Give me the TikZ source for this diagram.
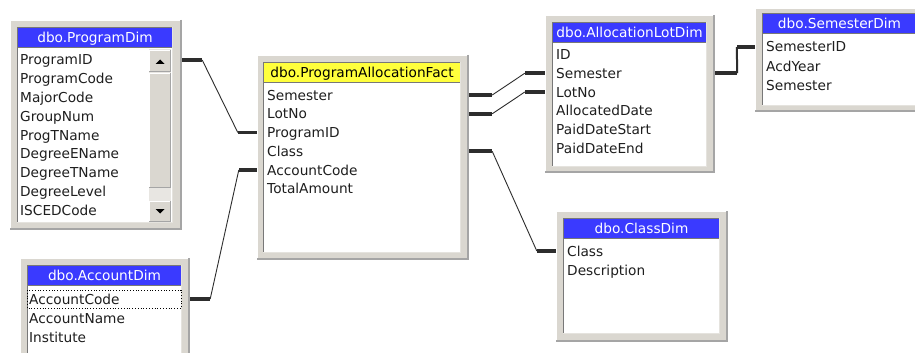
\documentclass[tikz,border=0pt]{standalone}
\usepackage{fontspec}
\setmainfont{DejaVu Sans}
\usetikzlibrary{calc,fit}
\definecolor{framegray}{RGB}{218,215,208}
\definecolor{shadegray}{RGB}{165,165,165}
\definecolor{darkedge}{RGB}{120,120,120}
\definecolor{hdrblue}{RGB}{58,58,255}
\definecolor{hdryellow}{RGB}{255,255,60}
\definecolor{linegray}{RGB}{45,45,45}
\definecolor{rowink}{RGB}{30,30,30}
\definecolor{trackgray}{RGB}{232,230,226}
\tikzset{
  rowtext/.style={anchor=west, inner sep=0pt, text height=10pt, text depth=0pt,
    font=\fontsize{13.7}{16}\selectfont, text=rowink},
  titletext/.style={inner sep=0pt, text height=10pt, text depth=0pt,
    font=\fontsize{13.7}{16}\selectfont},
  stub/.style={line width=3.6pt, linegray},
  link/.style={line width=0.9pt, linegray},
  vlink/.style={line width=2pt, linegray},
}
% #1 name, #2 outer top-left, #3 outer bottom-right, #4 inner top-left, #5 inner bottom-right,
% #6 title, #7 title fill, #8 title text colour
\newcommand\dbframe[8]{%
  \coordinate (#1-o0) at (#2); \coordinate (#1-o1) at (#3);
  \coordinate (#1-i0) at (#4); \coordinate (#1-i1) at (#5);
  \node[inner sep=0pt, fit=(#1-o0)(#1-o1)] (#1) {};
  \fill[framegray] (#1-o0) rectangle (#1-o1);
  \draw[white, line width=1pt] ($(#1-o0 -| #1-o1)+(-1,0.5)$) -- ($(#1-o0)+(0.5,0.5)$) -- ($(#1-o0 |- #1-o1)+(0.5,-1)$);
  \draw[shadegray, line width=1.6pt] ($(#1-o0 -| #1-o1)+(-0.8,0)$) -- ($(#1-o1)+(-0.8,-0.8)$) -- ($(#1-o0 |- #1-o1)+(0,-0.8)$);
  \fill[white] (#1-i0) rectangle (#1-i1);
  \fill[#7] (#1-i0) rectangle ($(#1-i1 |- #1-i0)+(0,20)$);
  \draw[darkedge, line width=1pt] ($(#1-i0)+(0,20.5)$) -- ($(#1-i1 |- #1-i0)+(0,20.5)$);
  \draw[darkedge, line width=1pt] ($(#1-i0 |- #1-i1)+(0.5,0)$) -- ($(#1-i0)+(0.5,0.5)$) -- ($(#1-i0 -| #1-i1)+(0,0.5)$);
  \draw[framegray!70, line width=1pt] ($(#1-i0 -| #1-i1)+(-0.5,0)$) -- ($(#1-i1)+(-0.5,-0.5)$) -- ($(#1-i0 |- #1-i1)+(0,-0.5)$);
  \node[titletext, text=#8] (#1-title) at ($(#1-i0)!0.5!(#1-i1 |- #1-i0)+(0,10.5)$) {#6};
}
\newcommand\raisedbox[2]{%
  \fill[framegray] (#1) rectangle (#2);
  \draw[white, line width=1pt] ($(#1 -| #2)+(-1,0.5)$) -- ($(#1)+(0.5,0.5)$) -- ($(#1 |- #2)+(0.5,-1)$);
  \draw[shadegray, line width=1pt] ($(#1 -| #2)+(-0.5,0)$) -- ($(#2)+(-0.5,-0.5)$) -- ($(#1 |- #2)+(0,-0.5)$);
}
\begin{document}
\begin{tikzpicture}[x=1pt,y=-1pt]
\useasboundingbox (0,0) rectangle (915,353);
\clip (0,0) rectangle (915,353);
\fill[white] (0,0) rectangle (915,353);

% ---- tables ----
\dbframe{pd}{10,20}{182,230}{17,27}{173,223}{dbo.ProgramDim}{hdrblue}{white}
\dbframe{ad}{20,258}{190,366}{27,265}{182,360}{dbo.AccountDim}{hdrblue}{white}
\dbframe{f}{257,55}{469,260}{263,62}{461,253}{dbo.ProgramAllocationFact}{hdryellow}{black}
\dbframe{al}{545,15}{715,173}{552,22}{707,167}{dbo.AllocationLotDim}{hdrblue}{white}
\dbframe{sd}{755,8}{925,112}{762,13}{917,106}{dbo.SemesterDim}{hdrblue}{white}
\dbframe{cd}{556,211}{728,342}{563,218}{720,334}{dbo.ClassDim}{hdrblue}{white}

% scrollbar of ProgramDim
\fill[trackgray] (149,49) rectangle (171,222);
\coordinate (upA) at (149,50); \coordinate (upB) at (171,72);
\raisedbox{upA}{upB}
\coordinate (thA) at (149,73); \coordinate (thB) at (171,188);
\raisedbox{thA}{thB}
\coordinate (dnA) at (149,201); \coordinate (dnB) at (171,222);
\raisedbox{dnA}{dnB}
\fill[black] (155.5,64) -- (164.5,64) -- (160,59.5) -- cycle;
\fill[black] (155.5,209) -- (164.5,209) -- (160,213.5) -- cycle;

% ---- rows ----
\foreach \t [count=\i from 0] in {ProgramID,ProgramCode,MajorCode,GroupNum,ProgTName,DegreeEName,DegreeTName,DegreeLevel,ISCEDCode}
  \node[rowtext] (pd\t) at (20,{60+18.75*\i}) {\t};
\foreach \t [count=\i from 0] in {AccountCode,AccountName,Institute}
  \node[rowtext] (ad\t) at (29,{299+19*\i}) {\t};
\draw[black, dotted, line width=0.8pt] (27.5,290) rectangle (181,308.5);
\foreach \t [count=\i from 0] in {Semester,LotNo,ProgramID,Class,AccountCode,TotalAmount}
  \node[rowtext] (f\t) at (267,{95+18.75*\i}) {\t};
\foreach \t [count=\i from 0] in {ID,Semester,LotNo,AllocatedDate,PaidDateStart,PaidDateEnd}
  \node[rowtext] (al\t) at (556,{54.5+18.75*\i}) {\t};
\foreach \t [count=\i from 0] in {SemesterID,AcdYear,Semester}
  \node[rowtext] (sd\t) at (766,{47+19*\i}) {\t};
\foreach \t [count=\i from 0] in {Class,Description}
  \node[rowtext] (cd\t) at (567,{251+19*\i}) {\t};

% ---- connectors ----
% ProgramDim.ProgramID -- Fact.ProgramID
\draw[stub] (pd.east |- pdProgramID) -- ++(20,0) coordinate (c1a);
\draw[stub] (f.west |- fProgramID) -- ++(-19,0) coordinate (c1b);
\draw[link] (c1a) -- (c1b);
% AccountDim.AccountCode -- Fact.AccountCode
\draw[stub] (ad.east |- adAccountCode) -- ++(20,0) coordinate (c2a);
\draw[stub] (f.west |- fAccountCode) -- ++(-18,0) coordinate (c2b);
\draw[link] (c2a) -- (c2b);
% Fact.Semester -- AllocationLotDim.Semester
\draw[stub] (f.east |- fSemester) -- ++(23,0) coordinate (c3a);
\draw[stub] (al.west |- alSemester) -- ++(-20,0) coordinate (c3b);
\draw[link] (c3a) -- (c3b);
% Fact.LotNo -- AllocationLotDim.LotNo
\draw[stub] (f.east |- fLotNo) -- ++(23,0) coordinate (c4a);
\draw[stub] (al.west |- alLotNo) -- ++(-20,0) coordinate (c4b);
\draw[link] (c4a) -- (c4b);
% Fact.Class -- ClassDim.Class
\draw[stub] (f.east |- fClass) -- ++(23,0) coordinate (c5a);
\draw[stub] (cd.west |- cdClass) -- ++(-19,0) coordinate (c5b);
\draw[link] (c5a) -- (c5b);
% AllocationLotDim.Semester -- SemesterDim.SemesterID
\draw[stub] (al.east |- alSemester) -- ++(22,0) coordinate (c6a);
\draw[stub] (sd.west |- sdSemesterID) -- ++(-18,0) coordinate (c6b);
\draw[vlink] (c6a) -- (c6b);
\end{tikzpicture}
\end{document}
